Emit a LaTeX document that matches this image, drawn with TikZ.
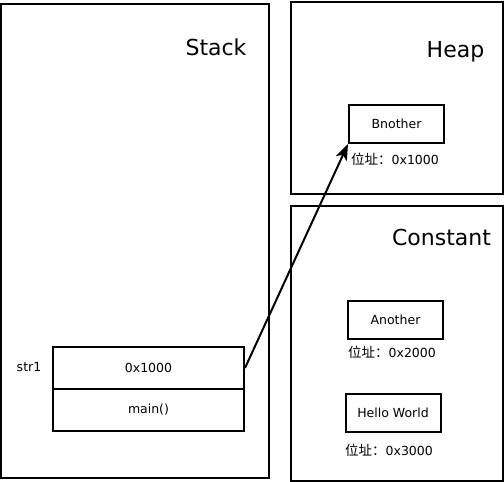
\documentclass[tikz,border=0pt]{standalone}
\usepackage{fontspec}
\setmainfont{DejaVu Sans}
\newfontfamily\cjk{Noto Sans CJK SC}
\usetikzlibrary{arrows.meta}
\begin{document}
\begin{tikzpicture}[x=1pt,y=-1pt,
  region/.style={draw,line width=2pt},
  cell/.style={draw,line width=2pt,minimum width=95pt,minimum height=38pt,inner sep=0pt,font=\fontsize{12.5}{14}\selectfont},
  stackcell/.style={draw,line width=2pt,minimum width=191pt,minimum height=42pt,inner sep=0pt,font=\fontsize{12.5}{14}\selectfont},
  title/.style={font=\fontsize{22}{26}\selectfont,inner sep=0pt},
  addr/.style={font=\fontsize{12.5}{14}\selectfont,inner sep=0pt},
  ptr/.style={line width=2pt,-{Stealth[length=16pt,width=12pt,inset=4pt]}}]
\useasboundingbox (0,0) rectangle (504,482);
% regions
\draw[region] (1,4) rectangle (269,478);
\draw[region] (291,1.5) rectangle (502.5,194);
\draw[region] (291,206) rectangle (502.5,480.5);
\node[title] (stacktitle) at (216,47) {Stack};
\node[title] (heaptitle) at (455.5,52) {Heap};
\node[title] (consttitle) at (441.5,237) {Constant};
% stack cells
\node[stackcell] (str) at (148.5,368) {0x1000};
\node[stackcell] (main) at (148.5,410) {main()};
\node[addr] (strlabel) at (29,367) {str1};
% heap
\node[cell] (bnother) at (396.5,124) {Bnother};
\node[addr] (bnaddr) at (395,159) {{\cjk\fontsize{13.5}{14}\selectfont 位址：}0x1000};
% constants
\node[cell] (another) at (395.5,320) {Another};
\node[addr] (anaddr) at (392,352) {{\cjk\fontsize{13.5}{14}\selectfont 位址：}0x2000};
\node[cell] (hello) at (393,413) {Hello World};
\node[addr] (hwaddr) at (389,450) {{\cjk\fontsize{13.5}{14}\selectfont 位址：}0x3000};
% pointer
\draw[ptr] (str.east) -- (bnother.south west);
\end{tikzpicture}
\end{document}
